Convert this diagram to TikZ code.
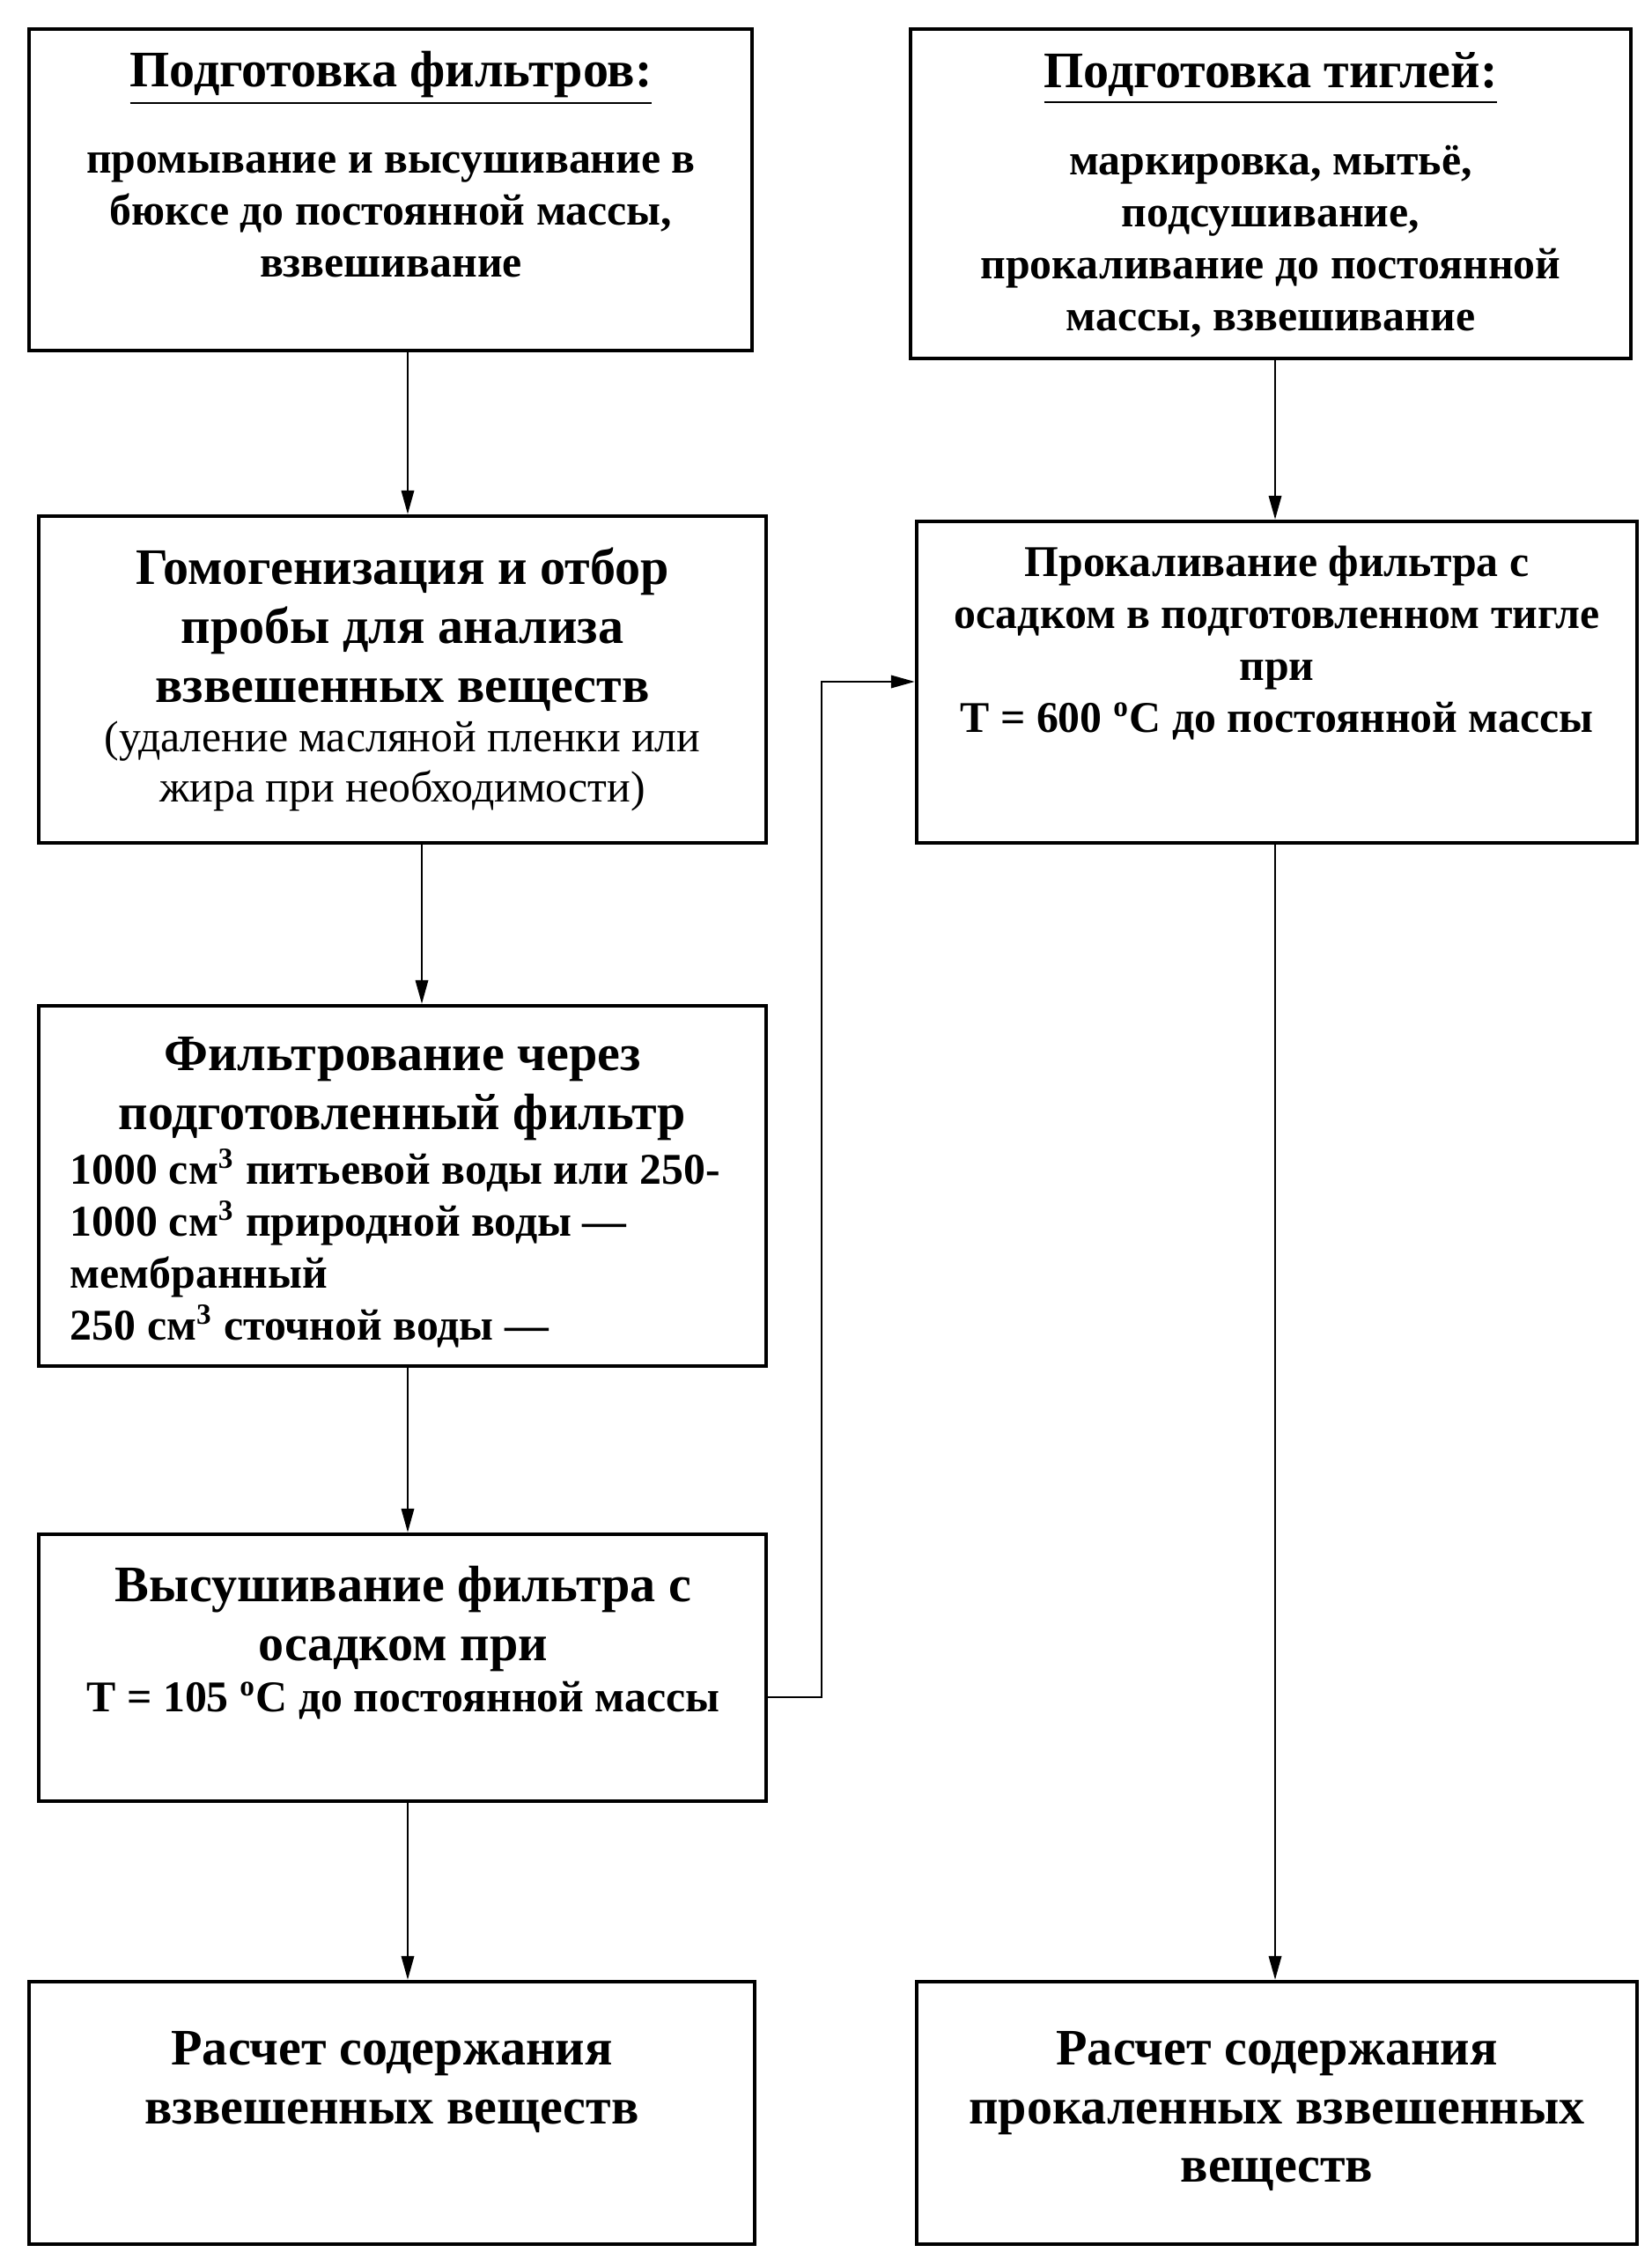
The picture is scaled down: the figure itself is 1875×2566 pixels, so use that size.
\documentclass[tikz,border=0pt]{standalone}
\usepackage{fontspec}
\setmainfont{Liberation Serif}
\usetikzlibrary{arrows.meta}

\newcommand{\bodyfont}{\fontsize{12}{14.2}\selectfont\bfseries}
\newcommand{\bigfont}{\fontsize{14}{16.1}\selectfont\bfseries}
\newcommand{\thinfont}{\fontsize{12}{13.7}\selectfont}

\begin{document}
\begin{tikzpicture}[x=0.08467mm, y=-0.08467mm,
    box/.style={draw, line width=1pt, rectangle, inner sep=0pt},
    sized/.style 2 args={minimum width=#1*0.08467mm, minimum height=#2*0.08467mm},
    arr/.style={-{Triangle[length=6.5pt,width=3.4pt]}, line width=0.7pt},
    txt/.style={align=center, inner sep=0pt}]
    \useasboundingbox (0,0) rectangle (1875,2566);

    % boxes
    \node[box, sized={821}{365}] (f1) at (443.5,215.5) {};
    \node[box, sized={818}{374}] (f2) at (1443,220) {};
    \node[box, sized={826}{371}] (f3) at (457,771.5) {};
    \node[box, sized={818}{365}] (f4) at (1450,774.5) {};
    \node[box, sized={826}{409}] (f5) at (457,1346.5) {};
    \node[box, sized={826}{303}] (f6) at (457,1893.5) {};
    \node[box, sized={824}{298}] (f7) at (445,2399) {};
    \node[box, sized={818}{298}] (f8) at (1450,2399) {};

    % texts
    \node[txt, font=\bigfont] (t1a) at (444,89) {\underline{Подготовка фильтров:}};
    \node[txt, font=\bodyfont] (t1b) at (444,244) {промывание и высушивание в\\бюксе до постоянной массы,\\взвешивание};
    \node[txt, font=\bigfont] (t2a) at (1443,89) {\underline{Подготовка тиглей:}};
    \node[txt, font=\bodyfont] (t2b) at (1443,274) {маркировка, мытьё,\\подсушивание,\\прокаливание до постоянной\\массы, взвешивание};
    \node[txt, font=\bigfont] (t3a) at (457,715) {Гомогенизация и отбор\\пробы для анализа\\взвешенных веществ};
    \node[txt, font=\thinfont] (t3b) at (457,870) {(удаление масляной пленки или\\жира при необходимости)};
    \node[txt, font=\bodyfont] (t4) at (1450,730) {Прокаливание фильтра с\\осадком в подготовленном тигле\\при\\T = 600 \textsuperscript{o}C до постоянной массы};
    \node[txt, font=\bigfont] (t5a) at (457,1236) {Фильтрование через\\подготовленный фильтр};
    \node[txt, font=\bodyfont, align=left, anchor=west] (t5b) at (79,1417) {1000 см\textsuperscript{3} питьевой воды или 250-\\1000 см\textsuperscript{3} природной воды —\\мембранный\\250 см\textsuperscript{3} сточной воды —};
    \node[txt, font=\bigfont] (t6a) at (458,1838) {Высушивание фильтра с\\осадком при};
    \node[txt, font=\bodyfont] (t6b) at (458,1931) {T = 105 \textsuperscript{o}C до постоянной массы};
    \node[txt, font=\bigfont] (t7) at (445,2364) {Расчет содержания\\взвешенных веществ};
    \node[txt, font=\bigfont] (t8) at (1450,2397) {Расчет содержания\\прокаленных взвешенных\\веществ};

    % connectors
    \coordinate (xl) at (463,0);
    \coordinate (xm) at (479,0);
    \coordinate (xr) at (1448,0);
    \coordinate (bend) at (933,0);
    \coordinate (ylow) at (0,1927);
    \coordinate (yup) at (0,774);
    \draw[arr] (f1.south -| xl) -- (f3.north -| xl);
    \draw[arr] (f2.south -| xr) -- (f4.north -| xr);
    \draw[arr] (f3.south -| xm) -- (f5.north -| xm);
    \draw[arr] (f5.south -| xl) -- (f6.north -| xl);
    \draw[arr] (f6.south -| xl) -- (f7.north -| xl);
    \draw[arr] (f4.south -| xr) -- (f8.north -| xr);
    \draw[arr] (f6.east |- ylow) -| (bend |- yup) -- (f4.west |- yup);
\end{tikzpicture}
\end{document}
